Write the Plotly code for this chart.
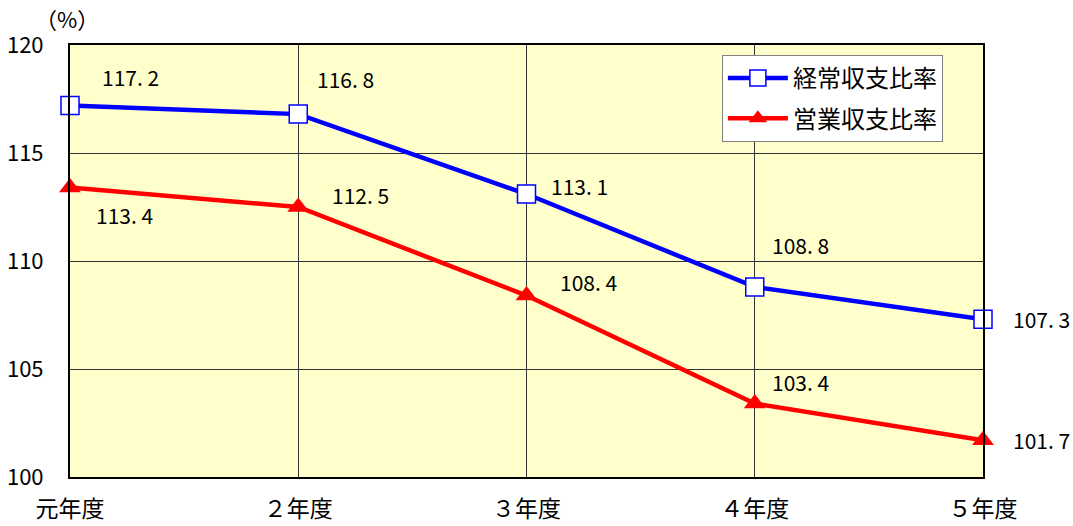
import plotly.graph_objects as go

# Fiscal years and ratios (%)
years = ["元年度", "２年度", "３年度", "４年度", "５年度"]
keijo = [117.2, 116.8, 113.1, 108.8, 107.3]   # 経常収支比率
eigyo = [113.4, 112.5, 108.4, 103.4, 101.7]   # 営業収支比率

# label offsets in pixels (dx, dy) relative to each point
keijo_off = [(60, 28), (47, 35), (53, 8), (46, 42), (58, 0)]
eigyo_off = [(54, -27), (62, 12), (62, 14), (46, 22), (58, 0)]

FONT = "Noto Sans CJK JP"
xs = list(range(len(years)))

fig = go.Figure()
fig.add_trace(go.Scatter(
    x=xs, y=keijo, name="経常収支比率", mode="lines+markers",
    legendgroup="k",
    line=dict(color="#0000FF", width=4.5),
    marker=dict(symbol="square", size=18, color="white",
                line=dict(color="#0000FF", width=1.5)),
    cliponaxis=False,
))
fig.add_trace(go.Scatter(
    x=xs, y=eigyo, name="営業収支比率", mode="lines+markers",
    legendgroup="e",
    line=dict(color="#FF0000", width=4.5),
    marker=dict(symbol="triangle-up", size=19, color="#FF0000"),
    cliponaxis=False,
))

for vals, offs in ((keijo, keijo_off), (eigyo, eigyo_off)):
    for i, (v, (dx, dy)) in enumerate(zip(vals, offs)):
        fig.add_annotation(
            x=i, y=v, text=f"{v:.1f}".replace(".", ". "), showarrow=False,
            xshift=dx, yshift=dy,
            font=dict(family=FONT, size=21, color="black"),
        )

fig.add_annotation(
    xref="paper", yref="paper", x=-0.003, y=1.0, yshift=27,
    xanchor="center", yanchor="middle",
    text="（%）", showarrow=False,
    font=dict(family=FONT, size=22, color="black"),
)

fig.update_layout(
    width=1073, height=526,
    margin=dict(l=70, r=90, t=45, b=49),
    paper_bgcolor="white",
    plot_bgcolor="#FFFFCC",
    showlegend=True,
    legend=dict(
        x=0.714, y=0.977, xanchor="left", yanchor="top",
        bgcolor="white", bordercolor="#808080", borderwidth=1,
        font=dict(family=FONT, size=24, color="black"),
        itemwidth=60, tracegroupgap=6,
        entrywidth=245, entrywidthmode="pixels",
    ),
    xaxis=dict(
        tickmode="array", tickvals=xs, ticktext=years,
        range=[0, len(years) - 1], automargin=False,
        showgrid=True, gridcolor="#333333", gridwidth=1,
        showline=True, linecolor="black", linewidth=2, mirror=True,
        ticks="", ticklabelstandoff=10,
        tickfont=dict(family=FONT, size=23, color="black"),
        zeroline=False,
    ),
    yaxis=dict(
        range=[100, 120], tickvals=[100, 105, 110, 115, 120],
        automargin=False,
        showgrid=True, gridcolor="#333333", gridwidth=1,
        showline=True, linecolor="black", linewidth=2, mirror=True,
        ticks="", ticklabelstandoff=20,
        tickfont=dict(family=FONT, size=22, color="black"),
        zeroline=False,
    ),
)

fig.write_html("out.html")
